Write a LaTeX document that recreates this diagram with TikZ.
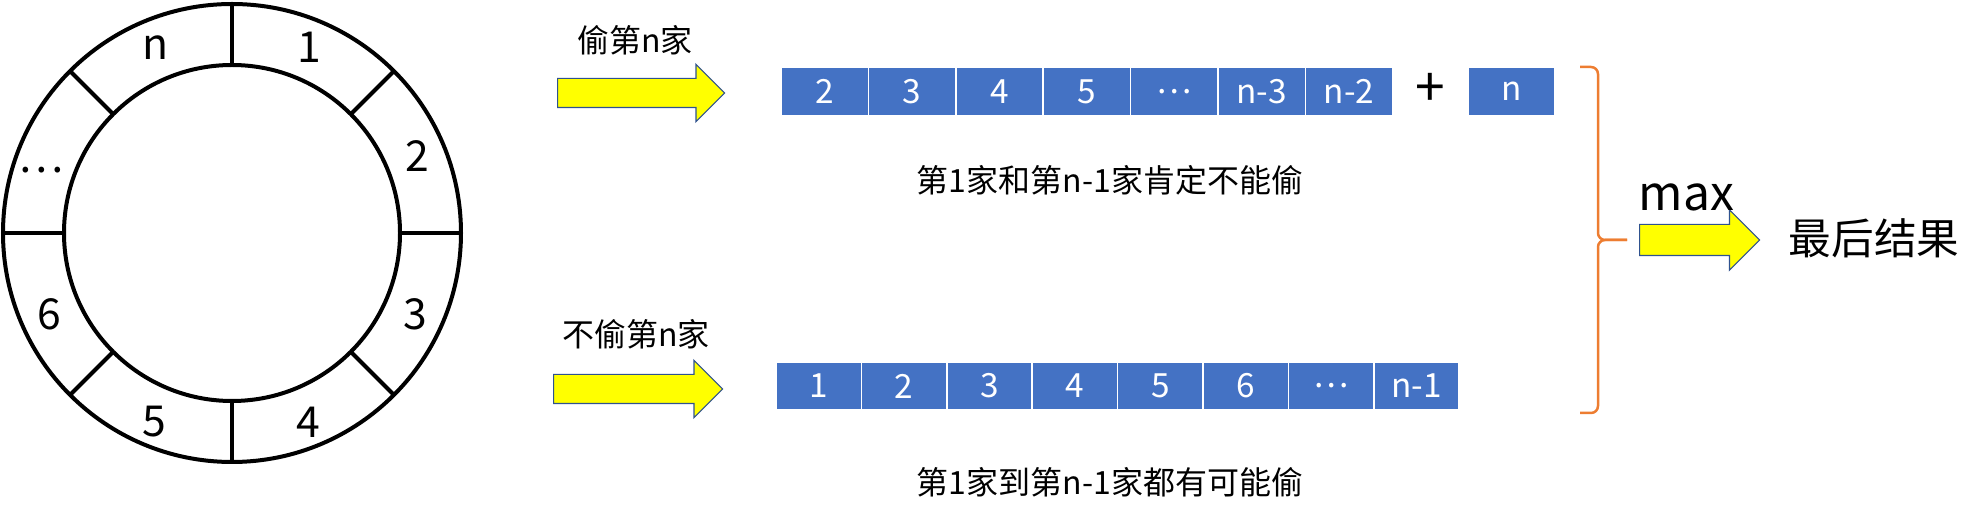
\documentclass[tikz,border=0pt]{standalone}
\usepackage{fontspec}
\setmainfont{Noto Sans CJK SC}
\usetikzlibrary{positioning, shapes.arrows}

\newlength\px
\setlength\px{0.75pt}
\definecolor{houseblue}{HTML}{4472C4}
\definecolor{arrowedge}{HTML}{2F528F}
\definecolor{braceorange}{HTML}{ED7D31}
\definecolor{arrowyellow}{HTML}{FFFF00}

\begin{document}
\begin{tikzpicture}[
    x=\px, y=\px,
    font=\fontsize{24}{28}\selectfont,
    ring/.style={draw=black, line width=4\px},
    ringnum/.style={font=\fontsize{32}{36}\selectfont},
    house/.style={
        rectangle, fill=houseblue, draw=white, line width=1.5\px,
        minimum width=87.4\px, minimum height=49\px,
        inner sep=0pt, outer sep=0pt,
        text=white,
        font=\fontsize{25}{29}\selectfont
    },
    lowhouse/.style={house, minimum width=85.4\px, minimum height=48\px},
    bigarrow/.style={
        single arrow, fill=arrowyellow, draw=arrowedge, line width=1.2\px,
        single arrow head extend=14\px, single arrow head indent=0pt,
        inner xsep=0pt, inner ysep=14\px, minimum width=56\px,
        anchor=tail
    },
    note/.style={font=\fontsize{24}{28}\selectfont},
    brace/.style={draw=braceorange, line width=2.5\px, rounded corners=7\px}
]
\useasboundingbox (0,0) rectangle (1986,521);

% ============ Ring of houses ============
\begin{scope}[shift={(232,288)}]
    \draw[ring] (0,0) circle[radius=229];
    \draw[ring] (0,0) circle[radius=168];
    \draw[ring] (90:168) -- (90:229);
    \draw[ring] (45:168) -- (45:229);
    \draw[ring] (0:168) -- (0:229);
    \draw[ring] (-45:168) -- (-45:229);
    \draw[ring] (-90:168) -- (-90:229);
    \draw[ring] (-135:168) -- (-135:229);
    \draw[ring] (180:168) -- (180:229);
    \draw[ring] (135:168) -- (135:229);
    \node[ringnum] (r1) at (67.5:201) {1};
    \node[ringnum] (r2) at (22.5:201) {2};
    \node[ringnum] (r3) at (-24:201) {3};
    \node[ringnum] (r4) at (-68:204) {4};
    \node[ringnum] (r5) at (-112.5:204) {5};
    \node[ringnum] (r6) at (-156:200) {6};
    \node[ringnum] (rdots) at (-191,63) {…};
    \node[ringnum] (rn) at (112.5:201) {n};
\end{scope}

% ============ Steal house n ============
\node[bigarrow, minimum height=167\px] (stealarrow) at (557,428) {};
\node[note] (steal) at (635,481) {偷第n家};

\node[house] (t2) at (824.7,429.5) {2};
\node[house, right=0pt of t2] (t3) {3};
\node[house, right=0pt of t3] (t4) {4};
\node[house, right=0pt of t4] (t5) {5};
\node[house, right=0pt of t5] (tdots) {⋯};
\node[house, right=0pt of tdots] (tn3) {n-3};
\node[house, right=0pt of tn3] (tn2) {n-2};
\node[font=\fontsize{40}{44}\selectfont] (plus) at (1430,431) {+};
\node[house] (tn) at (1511.5,429.5) {n};
\node[note] (note1) at (1110,341) {第1家和第n-1家肯定不能偷};

% ============ Skip house n ============
\node[bigarrow, minimum height=169\px] (skiparrow) at (553,132) {};
\node[note] (skip) at (636,187) {不偷第n家};

\node[lowhouse] (b1) at (818.7,135) {1};
\node[lowhouse, right=0pt of b1] (b2) {2};
\node[lowhouse, right=0pt of b2] (b3) {3};
\node[lowhouse, right=0pt of b3] (b4) {4};
\node[lowhouse, right=0pt of b4] (b5) {5};
\node[lowhouse, right=0pt of b5] (b6) {6};
\node[lowhouse, right=0pt of b6] (bdots) {⋯};
\node[lowhouse, right=0pt of bdots] (bn1) {n-1};
\node[note] (note2) at (1110,39) {第1家到第n-1家都有可能偷};

% ============ Take the max ============
\draw[brace] (1580,454) -- (1598,454) -- (1598,281) -- (1627,281);
\draw[brace] (1580,108) -- (1598,108) -- (1598,281) -- (1627,281);

\node[bigarrow, minimum height=120\px, minimum width=59\px,
      inner ysep=15\px, single arrow head extend=14.5\px] (maxarrow) at (1639,281) {};
\node[font=\fontsize{36}{40}\selectfont, anchor=base] (maxlabel) at (1686.5,310) {max};
\node[font=\fontsize{32}{36}\selectfont] (result) at (1874,283) {最后结果};

\end{tikzpicture}
\end{document}
